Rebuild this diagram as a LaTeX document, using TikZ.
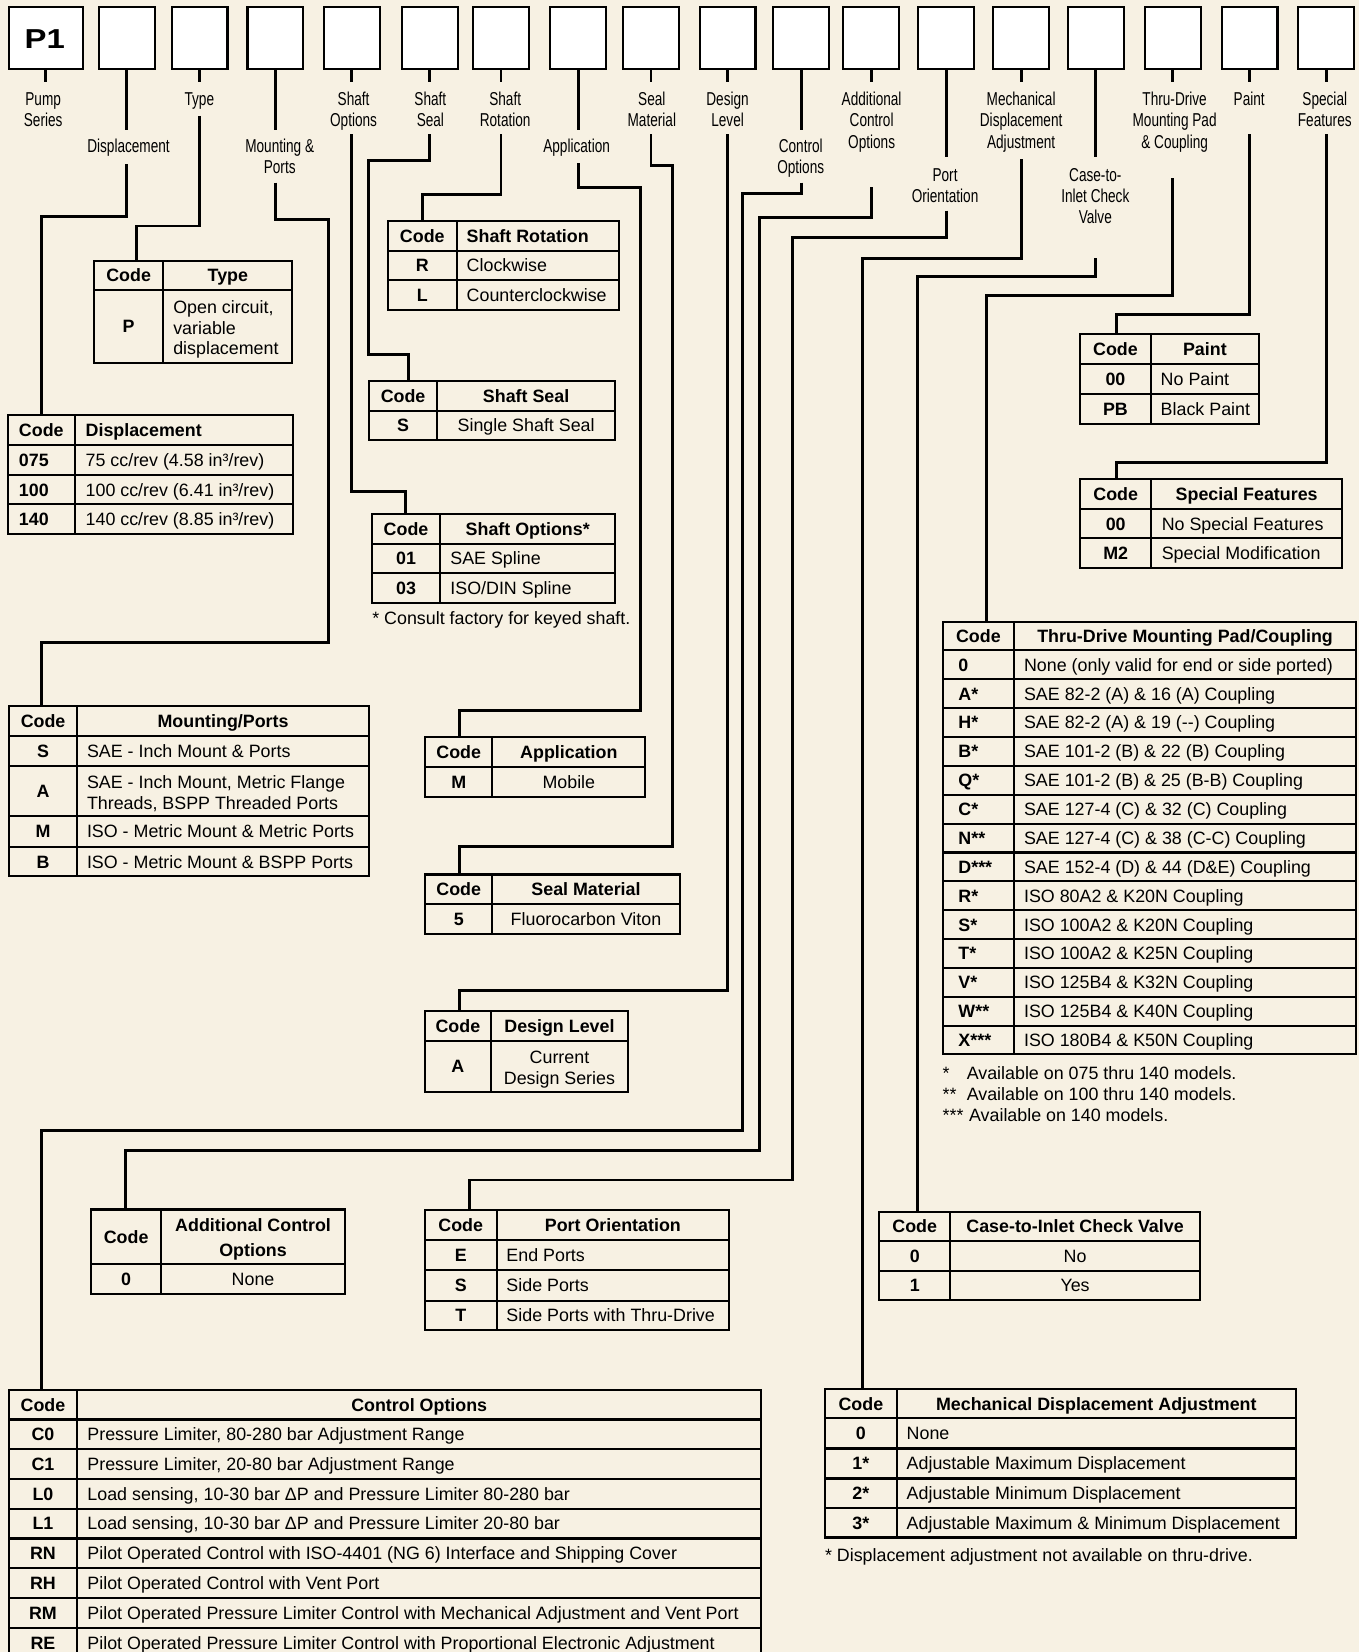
\documentclass[tikz,border=0pt]{standalone}
\usepackage{fontspec}
\setmainfont{Liberation Sans}
\newfontfamily\tabfam{Liberation Sans}
\newfontfamily\condfam[FakeStretch=0.73]{Liberation Sans}
\newfontfamily\pfam[FakeStretch=1.2]{Liberation Sans}
\newcommand\tabfont{\tabfam\fontsize{16.95}{20}\selectfont}
\newcommand\labfont{\condfam\fontsize{17.7}{20}\selectfont}
\definecolor{bg}{RGB}{247,241,227}
\tikzset{
 conn/.style={line width=2.8pt, black},
 tline/.style={line width=2pt, black},
 tframe/.style={draw, line width=2pt, inner sep=0pt, outer sep=0pt},
 hbox/.style={draw, fill=white, line width=2pt, inner sep=0pt, outer sep=0pt, minimum height=58.5pt},
 tx/.style={inner sep=0pt, outer sep=0pt, text height=12.15pt, text depth=0pt, font=\tabfont},
 cb/.style={tx, font=\tabfont\bfseries},
 cbl/.style={cb, anchor=west},
 dl/.style={tx, anchor=west},
 dc/.style={tx},
 lab/.style={font=\labfont, inner sep=0pt, anchor=base},
}
% header label: name, x, first baseline, lines
\newcommand\hdlab[4]{\foreach \ltext [count=\i] in {#4} {\node[lab] (#1-\i) at (#2,{#3+20*(\i-1)}) {\ltext};}}
% table frame: name, L, D, R, top, bottom
\newcommand\tfr[6]{\node[tframe, minimum width={#4-#2}, minimum height={#6-#5}] (#1) at ({(#2+#4)/2},{(#5+#6)/2}) {};
 \draw[tline] (#3,#5) -- (#3,#6);}
\newcommand\hrules[3]{\foreach \yy in {#3} {\draw[tline] (#1,\yy) -- (#2,\yy);}}
\begin{document}
\begin{tikzpicture}[x=1pt,y=-1pt]
\path[use as bounding box] (0,0) rectangle (1290,1568);
\clip (0,0) rectangle (1290,1568);
\fill[bg] (0,0) rectangle (1290,1568);

% ---------- header boxes
\node[hbox, minimum width=70pt] (b1) at (43.5,36.25) {};
\foreach \n/\x in {2/120.4,3/189.4,4/261.4,5/334,6/408,7/475.5,8/548.7,9/617.9,10/690.6,11/760.3,12/826.8,13/898,14/969.3,15/1040,16/1113.2,17/1186,18/1258.7}
  {\node[hbox, minimum width=53pt] (b\n) at (\x,36.25) {};}
\node[inner sep=0pt, font=\pfam\bfseries\fontsize{26}{26}\selectfont, text height=18.6pt, text depth=0pt] (p1) at (42.5,36.5) {P1};

% ---------- header labels
\hdlab{l1}{41}{100.5}{Pump,Series}
\hdlab{l2}{122}{144.5}{Displacement}
\hdlab{l3}{189.2}{100.5}{Type}
\hdlab{l4}{265.5}{144.5}{Mounting \&,Ports}
\hdlab{l5}{335.6}{100.5}{Shaft,Options}
\hdlab{l6}{408.5}{100.5}{Shaft,Seal}
\hdlab{l7}{479.5}{100.5}{Shaft,Rotation}
\hdlab{l8}{547.3}{144.5}{Application}
\hdlab{l9}{618.7}{100.5}{Seal,Material}
\hdlab{l10}{690.6}{100.5}{Design,Level}
\hdlab{l11}{760}{144.5}{Control,Options}
\hdlab{l12}{827.3}{100.5}{Additional,Control,Options}
\hdlab{l13}{897}{172}{Port,Orientation}
\hdlab{l14}{969.2}{100.5}{Mechanical,Displacement,Adjustment}
\hdlab{l15}{1039.6}{172}{Case-to-,Inlet Check,Valve}
\hdlab{l16}{1114.9}{100.5}{Thru-Drive,Mounting Pad,\& Coupling}
\hdlab{l17}{1185.7}{100.5}{Paint}
\hdlab{l18}{1257.4}{100.5}{Special,Features}

% ---------- Type
\tfr{tType}{89.2}{155}{277.5}{247.4}{344.3}
\hrules{89.2}{277.5}{275.3}
\node[cb] (tType-h1) at (122.1,261.4) {Code};
\node[cb] (tType-h2) at (216.3,261.4) {Type};
\node[cb] (tType-c1) at (122.1,309.8) {P};
\node[dl] (tType-d1) at (164.5,291.5) {Open circuit,};
\node[dl] (tType-d2) at (164.5,311.5) {variable};
\node[dl] (tType-d3) at (164.5,330.8) {displacement};

% ---------- Displacement
\tfr{tDisp}{7.9}{71.5}{277.8}{394}{506.9}
\hrules{7.9}{277.8}{422.4,450.9,478.7}
\node[cbl] (tDisp-h1) at (18,408.2) {Code};
\node[cbl] (tDisp-h2) at (81.3,408.2) {Displacement};
\node[cbl] (tDisp-c1) at (18,436.7) {075};
\node[dl] (tDisp-d1) at (81.3,436.7) {75 cc/rev (4.58 in³/rev)};
\node[cbl] (tDisp-c2) at (18,464.8) {100};
\node[dl] (tDisp-d2) at (81.3,464.8) {100 cc/rev (6.41 in³/rev)};
\node[cbl] (tDisp-c3) at (18,492.8) {140};
\node[dl] (tDisp-d3) at (81.3,492.8) {140 cc/rev (8.85 in³/rev)};

% ---------- Shaft Rotation
\tfr{tRot}{368}{433.5}{587.9}{209.5}{294}
\hrules{368}{587.9}{238,266.1}
\node[cb] (tRot-h1) at (400.8,223.8) {Code};
\node[cbl] (tRot-h2) at (443,223.8) {Shaft Rotation};
\node[cb] (tRot-c1) at (400.8,252) {R};
\node[dl] (tRot-d1) at (443,252) {Clockwise};
\node[cb] (tRot-c2) at (400.8,280) {L};
\node[dl] (tRot-d2) at (443,280) {Counterclockwise};

% ---------- Shaft Seal
\tfr{tSeal}{350.3}{414.8}{584}{361.6}{417.3}
\hrules{350.3}{584}{389.8}
\node[cb] (tSeal-h1) at (382.6,375.7) {Code};
\node[cb] (tSeal-h2) at (499.4,375.7) {Shaft Seal};
\node[cb] (tSeal-c1) at (382.6,403.6) {S};
\node[dc] (tSeal-d1) at (499.4,403.6) {Single Shaft Seal};

% ---------- Shaft Options
\tfr{tSO}{352.8}{418}{583.8}{487.9}{572.4}
\hrules{352.8}{583.8}{516,544.2}
\node[cb] (tSO-h1) at (385.4,502) {Code};
\node[cb] (tSO-h2) at (500.9,502) {Shaft Options*};
\node[cb] (tSO-c1) at (385.4,530.1) {01};
\node[dl] (tSO-d1) at (427.5,530.1) {SAE Spline};
\node[cb] (tSO-c2) at (385.4,558.3) {03};
\node[dl] (tSO-d2) at (427.5,558.3) {ISO/DIN Spline};
\node[dl] (tSO-fn) at (353.4,586.3) {* Consult factory for keyed shaft.};

% ---------- Application
\tfr{tApp}{403.4}{467.4}{612.3}{699.9}{756.2}
\hrules{403.4}{612.3}{728}
\node[cb] (tApp-h1) at (435.4,714) {Code};
\node[cb] (tApp-h2) at (539.9,714) {Application};
\node[cb] (tApp-c1) at (435.4,742.1) {M};
\node[dc] (tApp-d1) at (539.9,742.1) {Mobile};

% ---------- Seal Material
\tfr{tSM}{403.4}{467.4}{645}{830}{886.6}
\hrules{403.4}{645}{858.4}
\node[cb] (tSM-h1) at (435.4,844.2) {Code};
\node[cb] (tSM-h2) at (556.2,844.2) {Seal Material};
\node[cb] (tSM-c1) at (435.4,872.5) {5};
\node[dc] (tSM-d1) at (556.2,872.5) {Fluorocarbon Viton};

% ---------- Design Level
\tfr{tDL}{403.2}{465.9}{596.2}{959.7}{1036.2}
\hrules{403.2}{596.2}{987.8}
\node[cb] (tDL-h1) at (434.6,973.8) {Code};
\node[cb] (tDL-h2) at (531,973.8) {Design Level};
\node[cb] (tDL-c1) at (434.6,1012) {A};
\node[dc] (tDL-d1) at (531,1003) {Current};
\node[dc] (tDL-d2) at (531,1023) {Design Series};

% ---------- Mounting / Ports
\tfr{tMP}{8.5}{73.3}{350}{670.2}{831.8}
\hrules{8.5}{350}{698.6,726.8,774.6,803.7}
\node[cb] (tMP-h1) at (40.9,684.4) {Code};
\node[cb] (tMP-h2) at (211.7,684.4) {Mounting/Ports};
\node[cb] (tMP-c1) at (40.9,712.7) {S};
\node[dl] (tMP-d1) at (82.6,712.7) {SAE - Inch Mount \& Ports};
\node[cb] (tMP-c2) at (40.9,750.7) {A};
\node[dl] (tMP-d2a) at (82.6,742) {SAE - Inch Mount, Metric Flange};
\node[dl] (tMP-d2b) at (82.6,762.5) {Threads, BSPP Threaded Ports};
\node[cb] (tMP-c3) at (40.9,789.2) {M};
\node[dl] (tMP-d3) at (82.6,789.2) {ISO - Metric Mount \& Metric Ports};
\node[cb] (tMP-c4) at (40.9,817.8) {B};
\node[dl] (tMP-d4) at (82.6,817.8) {ISO - Metric Mount \& BSPP Ports};

% ---------- Additional Control Options
\tfr{tACO}{86.5}{152.8}{327.5}{1148}{1228.3}
\hrules{86.5}{327.5}{1200.1}
\node[cb] (tACO-h1) at (119.7,1174) {Code};
\node[cb] (tACO-h2a) at (240.2,1162.8) {Additional Control};
\node[cb] (tACO-h2b) at (240.2,1186.5) {Options};
\node[cb] (tACO-c1) at (119.7,1214.2) {0};
\node[dc] (tACO-d1) at (240.2,1214.2) {None};

% ---------- Port Orientation
\tfr{tPO}{403.2}{471.3}{692.1}{1148.6}{1262.5}
\hrules{403.2}{692.1}{1177,1205.5,1234.6}
\node[cb] (tPO-h1) at (437.3,1162.8) {Code};
\node[cb] (tPO-h2) at (581.7,1162.8) {Port Orientation};
\node[cb] (tPO-c1) at (437.3,1191.3) {E};
\node[dl] (tPO-d1) at (480.7,1191.3) {End Ports};
\node[cb] (tPO-c2) at (437.3,1220) {S};
\node[dl] (tPO-d2) at (480.7,1220) {Side Ports};
\node[cb] (tPO-c3) at (437.3,1248.6) {T};
\node[dl] (tPO-d3) at (480.7,1248.6) {Side Ports with Thru-Drive};

% ---------- Control Options
\tfr{tCO}{8.4}{73.2}{722.6}{1319.4}{1573.2}
\hrules{8.4}{722.6}{1347.3,1375.5,1403.8,1432.0,1460.3,1488.5,1516.7,1545.0}
\node[cb] (tCO-h1) at (40.8,1333.4) {Code};
\node[cb] (tCO-h2) at (397.9,1333.4) {Control Options};
\node[cb] (tCO-c1) at (40.8,1361.4) {C0};
\node[dl] (tCO-d1) at (83,1361.4) {Pressure Limiter, 80-280 bar Adjustment Range};
\node[cb] (tCO-c2) at (40.8,1389.7) {C1};
\node[dl] (tCO-d2) at (83,1389.7) {Pressure Limiter, 20-80 bar Adjustment Range};
\node[cb] (tCO-c3) at (40.8,1417.9) {L0};
\node[dl] (tCO-d3) at (83,1417.9) {Load sensing, 10-30 bar ΔP and Pressure Limiter 80-280 bar};
\node[cb] (tCO-c4) at (40.8,1446.1) {L1};
\node[dl] (tCO-d4) at (83,1446.1) {Load sensing, 10-30 bar ΔP and Pressure Limiter 20-80 bar};
\node[cb] (tCO-c5) at (40.8,1474.4) {RN};
\node[dl] (tCO-d5) at (83,1474.4) {Pilot Operated Control with ISO-4401 (NG 6) Interface and Shipping Cover};
\node[cb] (tCO-c6) at (40.8,1502.6) {RH};
\node[dl] (tCO-d6) at (83,1502.6) {Pilot Operated Control with Vent Port};
\node[cb] (tCO-c7) at (40.8,1530.9) {RM};
\node[dl] (tCO-d7) at (83,1530.9) {Pilot Operated Pressure Limiter Control with Mechanical Adjustment and Vent Port};
\node[cb] (tCO-c8) at (40.8,1559.1) {RE};
\node[dl] (tCO-d8) at (83,1559.1) {Pilot Operated Pressure Limiter Control with Proportional Electronic Adjustment};

% ---------- Thru-Drive
\tfr{tTD}{894.8}{962.5}{1287.1}{590.1}{1000.8}
\hrules{894.8}{1287.1}{617.3,644.7,672.1,699.5,726.9,754.3,781.7,809.1,836.4,863.8,891.2,918.6,946.0,973.4}
\node[cb] (tTD-h1) at (928.6,603.7) {Code};
\node[cb] (tTD-h2) at (1124.8,603.7) {Thru-Drive Mounting Pad/Coupling};
\node[cbl] (tTD-c1) at (909.7,631.0) {0};
\node[dl] (tTD-d1) at (972,631.0) {None (only valid for end or side ported)};
\node[cbl] (tTD-c2) at (909.7,658.4) {A*};
\node[dl] (tTD-d2) at (972,658.4) {SAE 82-2 (A) \& 16 (A) Coupling};
\node[cbl] (tTD-c3) at (909.7,685.8) {H*};
\node[dl] (tTD-d3) at (972,685.8) {SAE 82-2 (A) \& 19 (-{}-) Coupling};
\node[cbl] (tTD-c4) at (909.7,713.2) {B*};
\node[dl] (tTD-d4) at (972,713.2) {SAE 101-2 (B) \& 22 (B) Coupling};
\node[cbl] (tTD-c5) at (909.7,740.6) {Q*};
\node[dl] (tTD-d5) at (972,740.6) {SAE 101-2 (B) \& 25 (B-B) Coupling};
\node[cbl] (tTD-c6) at (909.7,768.0) {C*};
\node[dl] (tTD-d6) at (972,768.0) {SAE 127-4 (C) \& 32 (C) Coupling};
\node[cbl] (tTD-c7) at (909.7,795.4) {N**};
\node[dl] (tTD-d7) at (972,795.4) {SAE 127-4 (C) \& 38 (C-C) Coupling};
\node[cbl] (tTD-c8) at (909.7,822.8) {D***};
\node[dl] (tTD-d8) at (972,822.8) {SAE 152-4 (D) \& 44 (D\&E) Coupling};
\node[cbl] (tTD-c9) at (909.7,850.2) {R*};
\node[dl] (tTD-d9) at (972,850.2) {ISO 80A2 \& K20N Coupling};
\node[cbl] (tTD-c10) at (909.7,877.6) {S*};
\node[dl] (tTD-d10) at (972,877.6) {ISO 100A2 \& K20N Coupling};
\node[cbl] (tTD-c11) at (909.7,905.0) {T*};
\node[dl] (tTD-d11) at (972,905.0) {ISO 100A2 \& K25N Coupling};
\node[cbl] (tTD-c12) at (909.7,932.4) {V*};
\node[dl] (tTD-d12) at (972,932.4) {ISO 125B4 \& K32N Coupling};
\node[cbl] (tTD-c13) at (909.7,959.7) {W**};
\node[dl] (tTD-d13) at (972,959.7) {ISO 125B4 \& K40N Coupling};
\node[cbl] (tTD-c14) at (909.7,987.1) {X***};
\node[dl] (tTD-d14) at (972,987.1) {ISO 180B4 \& K50N Coupling};
\node[dl] (tTD-f1s) at (894.8,1018.5) {*};
\node[dl] (tTD-f1) at (917.6,1018.5) {Available on 075 thru 140 models.};
\node[dl] (tTD-f2s) at (894.8,1038.3) {**};
\node[dl] (tTD-f2) at (917.6,1038.3) {Available on 100 thru 140 models.};
\node[dl] (tTD-f3s) at (894.8,1058) {***};
\node[dl] (tTD-f3) at (919.8,1058) {Available on 140 models.};

% ---------- Paint
\tfr{tPaint}{1025.1}{1092.2}{1195}{317.3}{402.5}
\hrules{1025.1}{1195}{345.8,374.3}
\node[cb] (tPaint-h1) at (1058.7,331.6) {Code};
\node[cb] (tPaint-h2) at (1143.6,331.6) {Paint};
\node[cb] (tPaint-c1) at (1058.7,360) {00};
\node[dl] (tPaint-d1) at (1101.7,360) {No Paint};
\node[cb] (tPaint-c2) at (1058.7,388.4) {PB};
\node[dl] (tPaint-d2) at (1101.7,388.4) {Black Paint};

% ---------- Special Features
\tfr{tSF}{1025.1}{1092.8}{1273.8}{454.7}{538.8}
\hrules{1025.1}{1273.8}{483.2,511}
\node[cb] (tSF-h1) at (1059,469) {Code};
\node[cb] (tSF-h2) at (1183.3,469) {Special Features};
\node[cb] (tSF-c1) at (1059,497.1) {00};
\node[dl] (tSF-d1) at (1102.7,497.1) {No Special Features};
\node[cb] (tSF-c2) at (1059,524.9) {M2};
\node[dl] (tSF-d2) at (1102.7,524.9) {Special Modification};

% ---------- Case-to-Inlet
\tfr{tCI}{834.7}{901.8}{1139}{1150.1}{1234}
\hrules{834.7}{1139}{1178,1206.2}
\node[cb] (tCI-h1) at (868.2,1164) {Code};
\node[cb] (tCI-h2) at (1020.4,1164) {Case-to-Inlet Check Valve};
\node[cb] (tCI-c1) at (868.2,1192.1) {0};
\node[dc] (tCI-d1) at (1020.4,1192.1) {No};
\node[cb] (tCI-c2) at (868.2,1220.1) {1};
\node[dc] (tCI-d2) at (1020.4,1220.1) {Yes};

% ---------- Mechanical Displacement Adjustment
\tfr{tMDA}{783.1}{851.1}{1230.2}{1318.5}{1459.3}
\hrules{783.1}{1230.2}{1346.3,1374.8,1403.3,1431.7}
\node[cb] (tMDA-h1) at (817.1,1332.4) {Code};
\node[cb] (tMDA-h2) at (1040.6,1332.4) {Mechanical Displacement Adjustment};
\node[cb] (tMDA-c1) at (817.1,1360.6) {0};
\node[dl] (tMDA-d1) at (860.6,1360.6) {None};
\node[cb] (tMDA-c2) at (817.1,1389.1) {1*};
\node[dl] (tMDA-d2) at (860.6,1389.1) {Adjustable Maximum Displacement};
\node[cb] (tMDA-c3) at (817.1,1417.5) {2*};
\node[dl] (tMDA-d3) at (860.6,1417.5) {Adjustable Minimum Displacement};
\node[cb] (tMDA-c4) at (817.1,1445.5) {3*};
\node[dl] (tMDA-d4) at (860.6,1445.5) {Adjustable Maximum \& Minimum Displacement};
\node[dl] (tMDA-fn) at (783.1,1476) {* Displacement adjustment not available on thru-drive.};

% ---------- connectors
\draw[conn] (b1.south) -- (b1.south |- 0,77.5);
\draw[conn] (b2.south) -- (b2.south |- 0,123.4);
\draw[conn] (b2.south |- 0,155.7) |- (39.4,205.7) -- (39.4,0 |- tDisp.north);
\draw[conn] (b3.south) -- (b3.south |- 0,77.5);
\draw[conn] (b3.south |- 0,110) |- (129.7,214.5) -- (129.7,0 |- tType.north);
\draw[conn] (b4.south) -- (b4.south |- 0,123.4);
\draw[conn] (b4.south |- 0,173.4) |- (311.7,208) |- (39,610) -- (39,0 |- tMP.north);
\draw[conn] (b5.south) -- (b5.south |- 0,77.5);
\draw[conn] (b5.south |- 0,127.5) |- (385,466.7) -- (385,0 |- tSO.north);
\draw[conn] (b6.south) -- (b6.south |- 0,77.5);
\draw[conn] (b6.south |- 0,127.5) |- (349.6,151.9) |- (387.3,336.3) -- (387.3,0 |- tSeal.north);
\draw[conn] (b7.south) -- (b7.south |- 0,77.5);
\draw[conn] (b7.south |- 0,127.5) |- (401.3,185) -- (401.3,0 |- tRot.north);
\draw[conn] (b8.south) -- (b8.south |- 0,123.4);
\draw[conn] (b8.south |- 0,155) |- (608,177.8) |- (435.7,674.6) -- (435.7,0 |- tApp.north);
\draw[conn] (b9.south) -- (b9.south |- 0,77.5);
\draw[conn] (b9.south |- 0,127.5) |- (638.6,157.3) |- (435.7,803) -- (435.7,0 |- tSM.north);
\draw[conn] (b10.south) -- (b10.south |- 0,77.5);
\draw[conn] (b10.south |- 0,127.5) |- (435.7,939.7) -- (435.7,0 |- tDL.north);
\draw[conn] (b11.south) -- (b11.south |- 0,123.4);
\draw[conn] (b11.south |- 0,173.4) |- (704.6,183.5) |- (39.4,1073.2) -- (39.4,0 |- tCO.north);
\draw[conn] (b12.south) -- (b12.south |- 0,77.5);
\draw[conn] (b12.south |- 0,177.8) |- (720.8,206.3) |- (119.2,1091.6) -- (119.2,0 |- tACO.north);
\draw[conn] (b13.south) -- (b13.south |- 0,149.3);
\draw[conn] (b13.south |- 0,200) |- (752.1,225.6) |- (445.7,1120) -- (445.7,0 |- tPO.north);
\draw[conn] (b14.south) -- (b14.south |- 0,77.5);
\draw[conn] (b14.south |- 0,151.2) |- (818.9,245.8) -- (818.9,0 |- tMDA.north);
\draw[conn] (b15.south) -- (b15.south |- 0,149.3);
\draw[conn] (b15.south |- 0,245.2) |- (870.8,262.6) -- (870.8,0 |- tCI.north);
\draw[conn] (b16.south) -- (b16.south |- 0,77.5);
\draw[conn] (b16.south |- 0,169.3) |- (936.6,280.3) -- (936.6,0 |- tTD.north);
\draw[conn] (b17.south) -- (b17.south |- 0,77.5);
\draw[conn] (b17.south |- 0,127.5) |- (1059.3,298.4) -- (1059.3,0 |- tPaint.north);
\draw[conn] (b18.south) -- (b18.south |- 0,77.5);
\draw[conn] (b18.south |- 0,127.5) |- (1059.3,438.8) -- (1059.3,0 |- tSF.north);
\end{tikzpicture}
\end{document}
